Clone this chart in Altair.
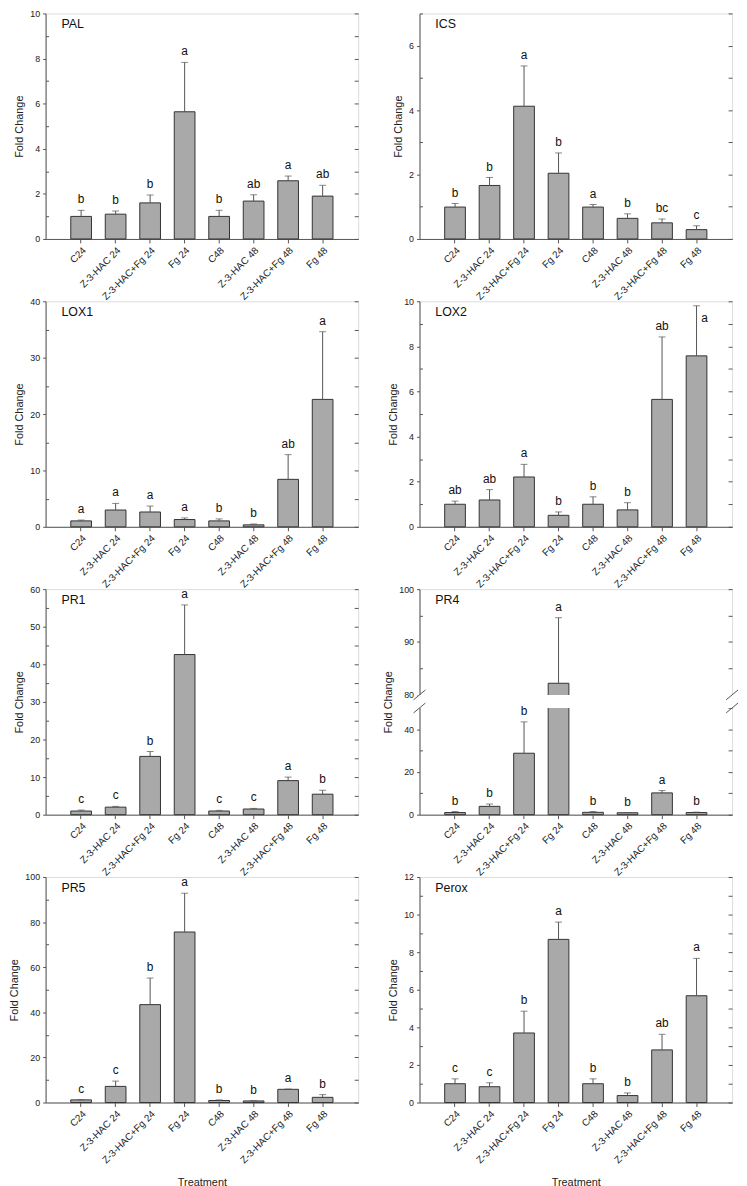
import altair as alt
import pandas as pd

treatments = ["C24", "Z-3-HAC 24", "Z-3-HAC+Fg 24", "Fg 24",
              "C48", "Z-3-HAC 48", "Z-3-HAC+Fg 48", "Fg 48"]

# mean fold change and top of error bar (mean + SE) per treatment
pal_mean = [1.00, 1.10, 1.60, 5.64, 1.00, 1.68, 2.58, 1.90]
pal_top = [1.27, 1.24, 1.95, 7.83, 1.27, 1.96, 2.79, 2.38]
pal_letters = ["b", "b", "b", "a", "b", "ab", "a", "ab"]

ics_mean = [0.99, 1.66, 4.12, 2.04, 0.99, 0.64, 0.50, 0.29]
ics_top = [1.10, 1.91, 5.37, 2.67, 1.07, 0.78, 0.62, 0.41]
ics_letters = ["b", "b", "a", "b", "a", "b", "bc", "c"]

lox1_mean = [1.05, 2.98, 2.63, 1.29, 1.05, 0.35, 8.42, 22.6]
lox1_top = [1.20, 4.15, 3.68, 1.58, 1.40, 0.50, 12.8, 34.6]
lox1_letters = ["a", "a", "a", "a", "b", "b", "ab", "a"]

lox2_mean = [1.00, 1.19, 2.21, 0.51, 1.00, 0.75, 5.65, 7.58]
lox2_top = [1.14, 1.65, 2.77, 0.66, 1.33, 1.07, 8.42, 9.80]
lox2_letters = ["ab", "ab", "a", "b", "b", "b", "ab", "a"]

pr1_mean = [0.97, 2.00, 15.5, 42.6, 0.97, 1.50, 9.06, 5.45]
pr1_top = [1.23, 2.20, 16.8, 55.8, 1.14, 1.67, 10.0, 6.50]
pr1_letters = ["c", "c", "b", "a", "c", "c", "a", "b"]

pr4_mean = [1.00, 3.90, 28.8, 82.2, 1.10, 0.90, 10.2, 1.00]
pr4_top = [1.50, 5.00, 43.5, 94.6, 1.50, 1.00, 11.3, 1.20]
pr4_letters = ["b", "b", "b", "a", "b", "b", "a", "b"]

pr5_mean = [1.17, 7.15, 43.4, 75.6, 0.90, 0.70, 5.85, 2.30]
pr5_top = [1.30, 9.50, 55.2, 92.8, 1.15, 0.80, 6.00, 3.50]
pr5_letters = ["c", "c", "b", "a", "b", "b", "a", "b"]

perox_mean = [1.00, 0.84, 3.70, 8.68, 1.00, 0.37, 2.80, 5.68]
perox_top = [1.26, 1.05, 4.86, 9.60, 1.26, 0.51, 3.63, 7.67]
perox_letters = ["c", "c", "b", "a", "b", "b", "ab", "a"]

FONT = "Liberation Sans"
W, H = 316, 228
AX = "#555555"
BAR = "#a9a9a9"


def panel(name, means, tops, letters, ymax, major, minor, right, xtitle,
          broken=None):
    df = pd.DataFrame({"t": treatments, "m": means, "e": tops, "l": letters})
    df["hi"] = df["e"] > 0.97 * ymax
    if broken is None:
        yscale = alt.Scale(domain=[0, ymax], nice=False, zero=True)
    else:
        lo, hi_ = broken
        yscale = alt.Scale(domain=[0, lo, hi_, ymax],
                           range=[H, H * 0.527, H * 0.469, 0], nice=False)

    x = alt.X("t:N", sort=treatments,
              scale=alt.Scale(paddingInner=0.4, paddingOuter=0.73),
              axis=alt.Axis(title="Treatment" if xtitle else None,
                            labelAngle=315, labelFontSize=10, labelFont=FONT,
                            labelColor="#222", tickSize=4, tickColor=AX,
                            domainColor=AX, titleFont=FONT, titleFontSize=11,
                            titleFontWeight="normal", titleColor="#222",
                            titlePadding=12, labelPadding=2))

    base = alt.Chart(df)
    bars = base.mark_bar(fill=BAR, stroke="#333333", strokeWidth=1).encode(
        x=x,
        y=alt.Y("m:Q", scale=yscale,
                axis=alt.Axis(orient="left", values=major, title="Fold Change",
                              labelFontSize=9, labelFont=FONT, labelColor="#222",
                              tickSize=3, tickColor=AX, domainColor=AX,
                              titleFont=FONT, titleFontSize=11,
                              titleFontWeight="normal", titleColor="#222",
                              titlePadding=5, labelPadding=3, grid=False)),
    )
    err = base.mark_rule(color=AX, strokeWidth=1).encode(
        x=alt.X("t:N", sort=treatments),
        y=alt.Y("m:Q", axis=alt.Axis(orient="left", values=minor, labels=False,
                                     domain=False, tickSize=3, offset=-3,
                                     tickColor=AX, title=None, grid=False)),
        y2="e:Q",
    )
    caps = base.mark_tick(color=AX, thickness=1, size=7, orient="horizontal").encode(
        x=alt.X("t:N", sort=treatments),
        y=alt.Y("e:Q", axis=alt.Axis(orient="right", values=right, labels=False,
                                     domain=False, tickSize=4, offset=-4,
                                     tickColor=AX, title=None, grid=False)),
    )
    lab = base.transform_filter("!datum.hi").mark_text(
        font=FONT, fontSize=12, baseline="bottom", dy=-4, color="#111").encode(
        x=alt.X("t:N", sort=treatments), y=alt.Y("e:Q", axis=None), text="l:N")
    lab_hi = base.transform_filter("datum.hi").mark_text(
        font=FONT, fontSize=12, baseline="top", dx=8, dy=7, color="#111").encode(
        x=alt.X("t:N", sort=treatments), y=alt.Y("e:Q", axis=None), text="l:N")
    ttl = alt.Chart(pd.DataFrame({"n": [name]})).mark_text(
        font=FONT, fontSize=12.5, align="left", baseline="middle", color="#111").encode(
        x=alt.value(16), y=alt.value(11), text="n:N")

    layers = [bars, err, caps, lab, lab_hi, ttl]
    if broken is not None:
        lo, hi_ = broken
        gap = alt.Chart(pd.DataFrame({"a": [lo], "b": [hi_]})).mark_rect(
            fill="white").encode(
            x=alt.value(-2), x2=alt.value(W + 2),
            y=alt.Y("a:Q", axis=None), y2="b:Q")
        brk = pd.DataFrame({"v": [lo, hi_]})
        marks = []
        for xc in (0, W):
            marks.append(alt.Chart(brk).mark_rule(
                color=AX, strokeWidth=1, yOffset=5, y2Offset=-5).encode(
                x=alt.value(xc - 6), x2=alt.value(xc + 6),
                y=alt.Y("v:Q", axis=None), y2="v:Q"))
        layers = [bars, err, caps, gap] + marks + [lab, lab_hi, ttl]

    return alt.layer(*layers).resolve_scale(y="shared").resolve_axis(
        y="independent").properties(width=W, height=H)


def ev(a, b, s):
    return [a + i * s for i in range(int(round((b - a) / s)) + 1)]


p_pal = panel("PAL", pal_mean, pal_top, pal_letters, 10,
              ev(0, 10, 2), ev(1, 9, 2), ev(0, 10, 1), False)
p_ics = panel("ICS", ics_mean, ics_top, ics_letters, 7,
              ev(0, 6, 2), ev(1, 7, 2), ev(0, 7, 1), False)
p_lox1 = panel("LOX1", lox1_mean, lox1_top, lox1_letters, 40,
               ev(0, 40, 10), ev(5, 35, 10), ev(0, 40, 5), False)
p_lox2 = panel("LOX2", lox2_mean, lox2_top, lox2_letters, 10,
               ev(0, 10, 2), ev(1, 9, 2), ev(0, 10, 1), False)
p_pr1 = panel("PR1", pr1_mean, pr1_top, pr1_letters, 60,
              ev(0, 60, 10), ev(5, 55, 10), ev(0, 60, 5), False)
p_pr4 = panel("PR4", pr4_mean, pr4_top, pr4_letters, 100,
              [0, 20, 40, 80, 90, 100], [10, 30, 85, 95],
              [0, 10, 20, 30, 40, 50, 80, 85, 90, 95, 100], False,
              broken=(50, 80))
p_pr5 = panel("PR5", pr5_mean, pr5_top, pr5_letters, 100,
              ev(0, 100, 20), ev(10, 90, 20), ev(0, 100, 10), True)
p_perox = panel("Perox", perox_mean, perox_top, perox_letters, 12,
                ev(0, 12, 2), ev(1, 11, 2), ev(0, 12, 1), True)

chart = alt.concat(p_pal, p_ics, p_lox1, p_lox2, p_pr1, p_pr4, p_pr5, p_perox,
                   columns=2, spacing={"row": 63, "column": 62},
                   bounds="flush").properties(
    padding={"top": -6, "left": 0, "right": 0, "bottom": 0}
).configure_view(stroke=AX, strokeWidth=1).configure(background="white")

chart.save("out.html", embed_options={"renderer": "svg", "actions": False})
